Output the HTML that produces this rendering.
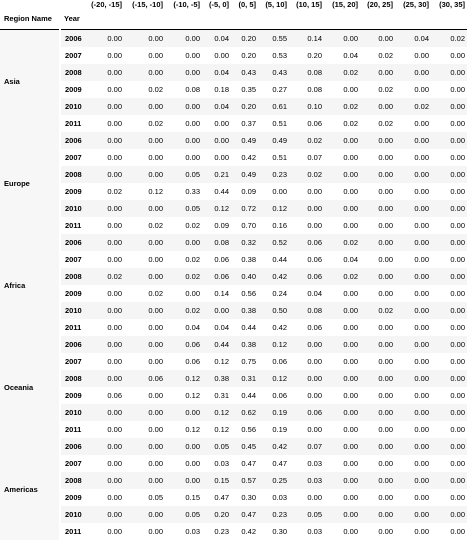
<!DOCTYPE html>
<html><head><meta charset="utf-8">
<style>
body{margin:0;background:#fff;font-family:"Liberation Sans",sans-serif;font-size:7.5px;line-height:9px;color:#000;}
table{border-collapse:collapse;table-layout:fixed;width:467px;}
td,th{padding:0 2px 0 0;text-align:right;white-space:nowrap;overflow:hidden;}
thead th{font-weight:bold;}
thead tr.h1 th{height:9px;vertical-align:top;padding-top:0;}
thead tr.h2 th{height:19px;vertical-align:middle;border-bottom:1px solid #000;padding-bottom:1px;}
tbody td{height:17px;}
tbody tr:nth-child(odd) td.v, tbody tr:nth-child(odd) td.y{background:#f5f5f5;}
td.y{font-weight:bold;text-align:left;padding-left:4px;}
td.r{font-weight:bold;text-align:left;padding-left:4px;background:#f7f7f7;border-right:2px solid #fff;}
th.rn{text-align:left;padding-left:4px;}
</style></head>
<body>
<table>
<colgroup><col style="width:60px"><col style="width:26px"><col style="width:38px"><col style="width:41px"><col style="width:37px"><col style="width:29px"><col style="width:27px"><col style="width:31px"><col style="width:35px"><col style="width:36px"><col style="width:35px"><col style="width:36px"><col style="width:36px"></colgroup>
<thead>
<tr class="h1" id="hdr1"><th></th><th></th></tr>
<tr class="h2"><th class="rn">Region Name</th><th class="rn">Year</th><th colspan="11"></th></tr>
</thead>
<tbody id="body"></tbody>
</table>
<script>
const bins=["(-20, -15]","(-15, -10]","(-10, -5]","(-5, 0]","(0, 5]","(5, 10]","(10, 15]","(15, 20]","(20, 25]","(25, 30]","(30, 35]"];
const regions=["Asia","Europe","Africa","Oceania","Americas"];
const years=[2006,2007,2008,2009,2010,2011];
const asia=[
[0,0,0,0.04,0.20,0.55,0.14,0,0,0.04,0.02],
[0,0,0,0,0.20,0.53,0.20,0.04,0.02,0,0],
[0,0,0,0.04,0.43,0.43,0.08,0.02,0,0,0],
[0,0.02,0.08,0.18,0.35,0.27,0.08,0,0.02,0,0],
[0,0,0,0.04,0.20,0.61,0.10,0.02,0,0.02,0],
[0,0.02,0,0,0.37,0.51,0.06,0.02,0.02,0,0]];
const europe=[
[0,0,0,0,0.49,0.49,0.02,0,0,0,0],
[0,0,0,0,0.42,0.51,0.07,0,0,0,0],
[0,0,0.05,0.21,0.49,0.23,0.02,0,0,0,0],
[0.02,0.12,0.33,0.44,0.09,0,0,0,0,0,0],
[0,0,0.05,0.12,0.72,0.12,0,0,0,0,0],
[0,0.02,0.02,0.09,0.70,0.16,0,0,0,0,0]];
const africa=[
[0,0,0,0.08,0.32,0.52,0.06,0.02,0,0,0],
[0,0,0.02,0.06,0.38,0.44,0.06,0.04,0,0,0],
[0.02,0,0.02,0.06,0.40,0.42,0.06,0.02,0,0,0],
[0,0.02,0,0.14,0.56,0.24,0.04,0,0,0,0],
[0,0,0.02,0,0.38,0.50,0.08,0,0.02,0,0],
[0,0,0.04,0.04,0.44,0.42,0.06,0,0,0,0]];
const oceania=[
[0,0,0.06,0.44,0.38,0.12,0,0,0,0,0],
[0,0,0.06,0.12,0.75,0.06,0,0,0,0,0],
[0,0.06,0.12,0.38,0.31,0.12,0,0,0,0,0],
[0.06,0,0.12,0.31,0.44,0.06,0,0,0,0,0],
[0,0,0,0.12,0.62,0.19,0.06,0,0,0,0],
[0,0,0.12,0.12,0.56,0.19,0,0,0,0,0]];
const americas=[
[0,0,0,0.05,0.45,0.42,0.07,0,0,0,0],
[0,0,0,0.03,0.47,0.47,0.03,0,0,0,0],
[0,0,0,0.15,0.57,0.25,0.03,0,0,0,0],
[0,0.05,0.15,0.47,0.30,0.03,0,0,0,0,0],
[0,0,0.05,0.20,0.47,0.23,0.05,0,0,0,0],
[0,0,0.03,0.23,0.42,0.30,0.03,0,0,0,0]];
const tables=[asia,europe,africa,oceania,americas];
const h1=document.getElementById('hdr1');
bins.forEach(b=>{const th=document.createElement('th');th.textContent=b;


h1.appendChild(th);});
const body=document.getElementById('body');
regions.forEach((r,ri)=>{
 tables[ri].forEach((row,yi)=>{
  const tr=document.createElement('tr');
  
  
  if(yi===0){const td=document.createElement('td');td.className='r';td.rowSpan=tables[ri].length;td.textContent=r;
   
   
   tr.appendChild(td);}
  const ty=document.createElement('td');ty.className='y';ty.textContent=years[yi];
  
  
  tr.appendChild(ty);
  row.forEach(v=>{const td=document.createElement('td');td.className='v';td.textContent=v.toFixed(2);
   
   
   tr.appendChild(td);});
  body.appendChild(tr);
 });
});
</script>
</body></html>
